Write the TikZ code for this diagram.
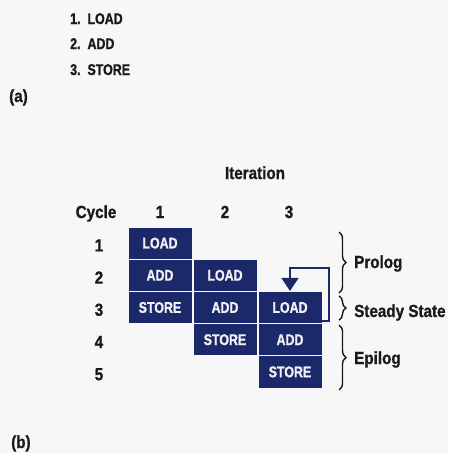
\documentclass[tikz,border=0pt]{standalone}
\usepackage{fontspec}
\setmainfont{Liberation Sans}[FakeStretch=0.87, BoldFeatures={FakeBold=1}]
\newfontfamily\capsfont{Liberation Sans}[FakeStretch=0.8, BoldFeatures={FakeBold=1.2}]
\usetikzlibrary{arrows.meta,decorations.pathreplacing}
\definecolor{navy}{RGB}{27,40,105}
\definecolor{bg}{RGB}{247,247,247}
\definecolor{ink}{RGB}{25,25,25}
\definecolor{boxtext}{RGB}{240,240,245}
\tikzset{
 lbl/.style={font=\fontsize{17.5}{20}\selectfont\bfseries, text=ink, inner sep=0pt},
 caps/.style={font=\capsfont\fontsize{15.5}{18}\selectfont\bfseries, text=ink, inner sep=0pt},
 cell/.style={fill=navy, draw=bg, line width=0.9pt, minimum width=64pt, minimum height=32.2pt, inner sep=0pt, text=boxtext, font=\capsfont\fontsize{15.5}{18}\selectfont\bfseries},
 fb/.style={draw=navy, line width=1.3pt, -{Triangle[width=17pt,length=13pt]}},
 brc/.style={decorate, decoration={brace, amplitude=7pt}, draw=ink, line width=1.4pt},
}
\begin{document}
\begin{tikzpicture}[x=1pt,y=-1pt]
\useasboundingbox (0,0) rectangle (448,453);
\fill[bg] (0,0) rectangle (448,453);
% part (a)
\node[caps, anchor=base west] (a1) at (70,24) {1.\hspace{7pt}LOAD};
\node[caps, anchor=base west] (a2) at (70,49) {2.\hspace{7pt}ADD};
\node[caps, anchor=base west] (a3) at (70,75) {3.\hspace{7pt}STORE};
\node[lbl, anchor=base west] (la) at (9,102) {(a)};
% headers
\node[lbl, anchor=base] (iter) at (255,179) {Iteration};
\node[lbl, anchor=base] (cyc) at (96,218) {Cycle};
\node[lbl, anchor=base] (i1) at (160,218) {1};
\node[lbl, anchor=base] (i2) at (225,218) {2};
\node[lbl, anchor=base] (i3) at (289,218) {3};
\node[lbl, anchor=base] (r1) at (99,251.4) {1};
\node[lbl, anchor=base] (r2) at (99,283.6) {2};
\node[lbl, anchor=base] (r3) at (99,315.8) {3};
\node[lbl, anchor=base] (r4) at (99,348) {4};
\node[lbl, anchor=base] (r5) at (99,380.2) {5};
% cells
\node[cell] (c11) at (160,243.1) {LOAD};
\node[cell] (c21) at (160,275.3) {ADD};
\node[cell] (c31) at (160,307.5) {STORE};
\node[cell] (c22) at (225,275.3) {LOAD};
\node[cell] (c32) at (225,307.5) {ADD};
\node[cell] (c42) at (225,339.7) {STORE};
\node[cell] (c33) at (290,307.5) {LOAD};
\node[cell] (c43) at (290,339.7) {ADD};
\node[cell] (c53) at (290,371.9) {STORE};
% feedback
\coordinate (fbtop) at (329,268);
\draw[fb] ([yshift=3pt]c33.south east) -| (fbtop) -| (c33.north);
% braces
\coordinate (b1t) at (339,232);
\coordinate (b1b) at (339,293);
\coordinate (b2t) at (339,296);
\coordinate (b2b) at (339,320);
\coordinate (b3t) at (339,325);
\coordinate (b3b) at (339,390);
\draw[brc] (b1t) -- (b1b);
\draw[brc] (b2t) -- (b2b);
\draw[brc] (b3t) -- (b3b);
\node[lbl, anchor=base west] (pro) at (354,268) {Prolog};
\node[lbl, anchor=base west] (ste) at (354,317) {Steady State};
\node[lbl, anchor=base west] (epi) at (354,364) {Epilog};
\node[lbl, anchor=base west] (lb) at (11,448) {(b)};
\end{tikzpicture}
\end{document}
